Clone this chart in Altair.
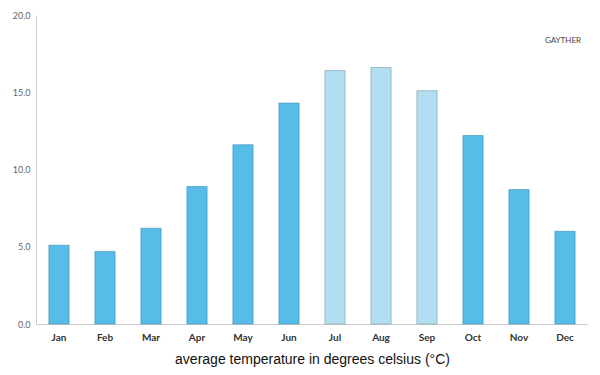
import altair as alt
import pandas as pd

months = ["Jan", "Feb", "Mar", "Apr", "May", "Jun", "Jul", "Aug", "Sep", "Oct", "Nov", "Dec"]
temps = [5.1, 4.7, 6.2, 8.9, 11.6, 14.3, 16.4, 16.6, 15.1, 12.2, 8.7, 6.0]
groups = ["other", "other", "other", "other", "other", "other",
          "summer", "summer", "summer", "other", "other", "other"]

df = pd.DataFrame({"month": months, "temp": temps, "group": groups})

bars = alt.Chart(df).mark_bar(strokeWidth=1, strokeOpacity=0.6).encode(
    x=alt.X("month:N", sort=months,
            scale=alt.Scale(paddingInner=0.56, paddingOuter=0.28),
            axis=alt.Axis(title="average temperature in degrees celsius (°C)",
                          labelAngle=0, ticks=False, domainColor="#cccccc",
                          labelFont="Lato", labelFontWeight="bold", labelFontSize=10,
                          labelColor="#333333", labelPadding=8,
                          titleFont="Liberation Sans", titleFontSize=14,
                          titleFontWeight="normal", titleColor="#111111",
                          titlePadding=10)),
    y=alt.Y("temp:Q", scale=alt.Scale(domain=[0, 20], nice=False),
            axis=alt.Axis(title=None, values=[0, 5, 10, 15, 20], format=".1f",
                          grid=False, ticks=False, domainColor="#cccccc",
                          labelFont="Lato", labelFontSize=9, labelColor="#666666",
                          labelPadding=6)),
    color=alt.Color("group:N", scale=alt.Scale(domain=["other", "summer"],
                                                range=["#57bde8", "#b1def1"]), legend=None),
    stroke=alt.Stroke("group:N", scale=alt.Scale(domain=["other", "summer"],
                                                  range=["#3c8fb5", "#7d9aa8"]), legend=None),
)

logo = alt.Chart(pd.DataFrame({"t": ["GAYTHER"]})).mark_text(
    fontSize=8, font="Lato", color="#444444"
).encode(text="t:N", x=alt.value(527), y=alt.value(26))

chart = alt.layer(bars, logo).properties(
    width=552, height=309,
    autosize=alt.AutoSizeParams(type="none"),
    padding={"left": 36, "top": 15, "right": 12, "bottom": 51},
).configure_view(stroke=None)

chart.save("out.html", embed_options={"renderer": "svg", "actions": False})
